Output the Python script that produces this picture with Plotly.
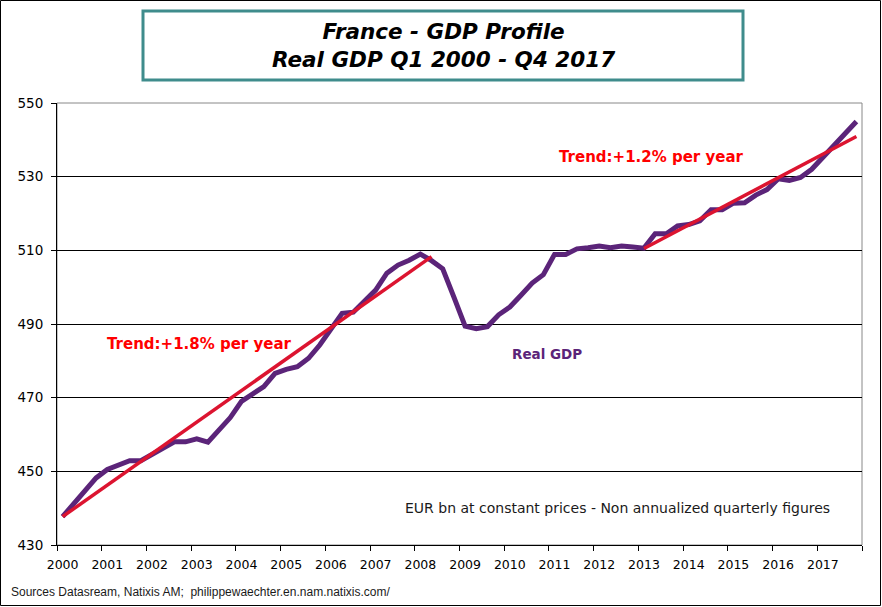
import plotly.graph_objects as go

# ---- data ----
years = [str(y) for y in range(2000, 2018)]
quarter_index = list(range(72))
gdp = [
    437.7, 441.2, 444.8, 448.2, 450.5, 451.6, 452.9, 452.9,
    454.5, 456.3, 458.0, 458.0, 458.8, 457.9, 461.2, 464.6,
    469.0, 471.2, 473.0, 476.6, 477.7, 478.4, 480.7, 484.3,
    488.4, 492.9, 493.2, 496.2, 499.2, 503.8, 506.0, 507.3,
    509.0, 507.2, 505.0, 497.3, 489.4, 488.7, 489.3, 492.5,
    494.6, 497.8, 501.1, 503.4, 508.9, 508.9, 510.4, 510.7,
    511.2, 510.7, 511.2, 510.9, 510.6, 514.5, 514.5, 516.6,
    517.0, 518.0, 521.0, 521.0, 522.8, 522.9, 525.0, 526.5,
    529.4, 529.0, 529.8, 532.0, 535.3, 538.7, 542.0, 545.0,
]
trend1_x = [0, 33]
trend1_y = [437.7, 508.3]
trend2_x = [52, 71]
trend2_y = [510.5, 540.9]
y_ticks = [430, 450, 470, 490, 510, 530, 550]

PURPLE = "#5B2479"
RED = "#DC1430"
FONT = "DejaVu Sans"

fig = go.Figure()
fig.add_trace(go.Scatter(x=quarter_index, y=gdp, mode="lines",
                         line=dict(color=PURPLE, width=5), showlegend=False,
                         hoverinfo="skip"))
fig.add_trace(go.Scatter(x=trend1_x, y=trend1_y, mode="lines",
                         line=dict(color=RED, width=3.5), showlegend=False,
                         hoverinfo="skip"))
fig.add_trace(go.Scatter(x=trend2_x, y=trend2_y, mode="lines",
                         line=dict(color=RED, width=3.5), showlegend=False,
                         hoverinfo="skip"))
# invisible trace on overlay axis for tick marks between years
fig.add_trace(go.Scatter(x=[-0.5, 71.5], y=[430, 430], xaxis="x2", mode="lines",
                         line=dict(width=0), opacity=0, showlegend=False,
                         hoverinfo="skip"))

L, R, T, B = 57, 20, 103, 62
W, H = 882, 607
pw, ph = W - L - R, H - T - B

def px(xp):
    return (xp - L) / pw

def py(yp):
    return (H - B - yp) / ph

fig.update_layout(
    width=W, height=H,
    margin=dict(l=L, r=R, t=T, b=B, pad=0),
    paper_bgcolor="white", plot_bgcolor="white",
    xaxis=dict(range=[-0.5, 71.5], tickvals=list(range(0, 72, 4)), ticktext=years,
               ticks="", showgrid=False, zeroline=False, showline=True,
               linecolor="black", linewidth=1, ticklabelstandoff=8,
               tickfont=dict(family=FONT, size=12.5, color="black")),
    xaxis2=dict(range=[-0.5, 71.5], overlaying="x", side="bottom",
                tickvals=[i - 0.5 for i in range(0, 73, 4)], showticklabels=False,
                ticks="outside", ticklen=5, tickcolor="black", tickwidth=1,
                showgrid=False, zeroline=False, showline=False),
    yaxis=dict(range=[430, 550], tickvals=y_ticks, ticks="outside", ticklen=5,
               tickcolor="black", showgrid=True, gridcolor="black", gridwidth=1,
               zeroline=False, showline=True, linecolor="black", linewidth=1,
               ticklabelstandoff=5,
               tickfont=dict(family=FONT, size=13.5, color="black")),
    hovermode=False,
)

shapes = [
    # plot area frame (gray, top/right)
    dict(type="rect", xref="paper", yref="paper", x0=0, x1=1, y0=0, y1=1,
         line=dict(color="#888888", width=1), layer="below"),
    # outer chart border
    dict(type="rect", xref="paper", yref="paper",
         x0=px(0.5), x1=px(880.5), y0=py(605.5), y1=py(0.5),
         line=dict(color="black", width=1)),
    # title box
    dict(type="rect", xref="paper", yref="paper",
         x0=px(143), x1=px(743), y0=py(80), y1=py(11),
         line=dict(color="#3F8C8C", width=3), fillcolor="white"),
]
fig.update_layout(shapes=shapes)

annotations = [
    dict(text="<b><i>France - GDP Profile<br>Real GDP Q1 2000 - Q4 2017</i></b>",
         xref="paper", yref="paper", x=px(443), y=py(45.5), showarrow=False,
         xanchor="center", yanchor="middle",
         font=dict(family=FONT, size=21.5, color="black")),
    dict(text="<b>Trend:+1.8% per year</b>", xref="paper", yref="paper",
         x=px(105), y=py(344), xanchor="left", yanchor="middle", showarrow=False,
         font=dict(family=FONT, size=15, color="#FF0000")),
    dict(text="<b>Trend:+1.2% per year</b>", xref="paper", yref="paper",
         x=px(557), y=py(157), xanchor="left", yanchor="middle", showarrow=False,
         font=dict(family=FONT, size=15, color="#FF0000")),
    dict(text="<b>Real GDP</b>", xref="paper", yref="paper",
         x=px(510), y=py(354), xanchor="left", yanchor="middle", showarrow=False,
         font=dict(family=FONT, size=13.5, color=PURPLE)),
    dict(text="EUR bn at constant prices - Non annualized quarterly figures",
         xref="paper", yref="paper", x=px(403), y=py(507.5), xanchor="left",
         yanchor="middle", showarrow=False,
         font=dict(family=FONT, size=14, color="#1a1a1a")),
    dict(text="Sources Datasream, Natixis AM;  philippewaechter.en.nam.natixis.com/",
         xref="paper", yref="paper", x=px(9), y=py(591.5), xanchor="left",
         yanchor="middle", showarrow=False,
         font=dict(family="Liberation Sans", size=12, color="#1a1a1a")),
]
fig.update_layout(annotations=annotations)

fig.write_html("out.html", config={"displayModeBar": False},
               post_script="document.body.style.margin='0';document.body.style.overflow='hidden';")
